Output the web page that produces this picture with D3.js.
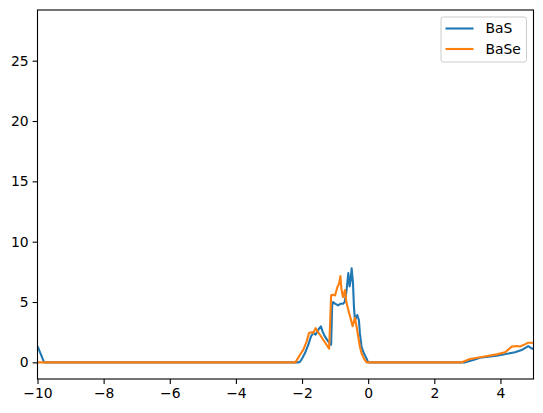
<!DOCTYPE html>
<html>
<head>
<meta charset="utf-8">
<script src="https://cdn.jsdelivr.net/npm/d3@7"></script>
<style>
  body { margin: 0; background: #fff; }
  svg text { font-family: "DejaVu Sans", sans-serif; font-size: 13.9px; fill: #000; }
</style>
</head>
<body>
<div id="chart"></div>
<script>
// values
var basX = [-10, -9.8, -2.1, -2.06, -1.99, -1.91, -1.81, -1.73, -1.66, -1.59, -1.51, -1.43, -1.38, -1.31, -1.21, -1.12,
            -1.09, -1.06, -1.0, -0.91, -0.83, -0.76, -0.71, -0.66, -0.60, -0.56, -0.53, -0.50, -0.46, -0.43, -0.40,
            -0.33, -0.28, -0.25, -0.20, -0.13, -0.05, 0, 2.93, 3.18, 3.38, 3.89, 4.44, 4.64, 4.84, 4.94, 5.0];
var basY = [1.35, 0, 0, 0.05, 0.36, 0.77, 1.46, 2.15, 2.43, 2.29, 2.7, 2.98, 2.57, 2.15, 1.74, 1.46,
            4.7, 5.0, 4.86, 4.72, 4.86, 4.86, 5.0, 5.83, 7.4, 6.3, 6.8, 7.8, 6.65, 4.6, 3.5,
            3.92, 3.5, 2.4, 1.29, 0.75, 0.33, 0, 0, 0.19, 0.38, 0.55, 0.83, 1.02, 1.35, 1.16, 1.1];

var baseX = [-10, -2.2, -2.06, -1.96, -1.86, -1.79, -1.71, -1.66, -1.59, -1.53, -1.46, -1.36, -1.26, -1.18,
             -1.12, -1.06, -1.0, -0.93, -0.88, -0.84, -0.81, -0.76, -0.70, -0.66, -0.60, -0.53, -0.47, -0.40,
             -0.35, -0.30, -0.25, -0.20, -0.13, -0.05, 2.83, 3.08, 3.48, 3.89, 4.14, 4.34, 4.49, 4.59, 4.74, 4.84, 4.94, 5.0];
var baseY = [0, 0, 0.63, 1.05, 1.74, 2.43, 2.5, 2.43, 2.84, 2.57, 2.29, 1.87, 1.46, 1.13,
             5.55, 5.6, 5.55, 6.24, 6.51, 7.15, 6.1, 5.41, 6.0, 5.0, 4.33, 3.64, 3.0, 3.7,
             2.95, 2.12, 1.29, 0.75, 0.33, 0, 0, 0.27, 0.47, 0.66, 0.83, 1.3, 1.35, 1.32, 1.49, 1.63, 1.63, 1.6];

var xTicks = [-10, -8, -6, -4, -2, 0, 2, 4];
var yTicks = [0, 5, 10, 15, 20, 25];
var names = ["BaS", "BaSe"];
var colors = ["#1f77b4", "#ff7f0e"];

var width = 543, height = 413;
var margin = {top: 10, right: 9.5, bottom: 34, left: 37.5};

var svg = d3.select("#chart").append("svg")
    .attr("width", width)
    .attr("height", height);

var x = d3.scaleLinear().domain([-10, 5]).range([margin.left, width - margin.right]);
var y = d3.scaleLinear().domain([-1.38, 29.2]).range([height - margin.bottom, margin.top]);

svg.append("clipPath").attr("id", "clip")
  .append("rect")
    .attr("x", margin.left).attr("y", margin.top)
    .attr("width", x.range()[1] - margin.left)
    .attr("height", y.range()[0] - margin.top);

var series = [
  basX.map(function(v, i) { return [v, basY[i]]; }),
  baseX.map(function(v, i) { return [v, baseY[i]]; })
];

var line = d3.line()
    .x(function(d) { return x(d[0]); })
    .y(function(d) { return y(d[1]); });

series.forEach(function(s, i) {
  svg.append("path")
      .datum(s)
      .attr("clip-path", "url(#clip)")
      .attr("fill", "none")
      .attr("stroke", colors[i])
      .attr("stroke-width", 2.1)
      .attr("stroke-linejoin", "round")
      .attr("d", line);
});

var fmt = function(d) { return d < 0 ? "\u2212" + Math.abs(d) : "" + d; };

var xAxis = svg.append("g")
    .attr("transform", "translate(0," + y.range()[0] + ")")
    .call(d3.axisBottom(x).tickValues(xTicks).tickFormat(fmt).tickSizeInner(4.9).tickSizeOuter(0).tickPadding(4));
var yAxis = svg.append("g")
    .attr("transform", "translate(" + margin.left + ",0)")
    .call(d3.axisLeft(y).tickValues(yTicks).tickFormat(fmt).tickSizeInner(4.9).tickSizeOuter(0).tickPadding(4));

[xAxis, yAxis].forEach(function(g) {
  g.select(".domain").remove();
  g.selectAll(".tick line").attr("stroke", "#000").attr("stroke-width", 1.1);
  g.selectAll(".tick text").style("font-size", "13.9px").attr("font-family", "DejaVu Sans");
});

// frame
svg.append("rect")
    .attr("x", margin.left).attr("y", margin.top)
    .attr("width", x.range()[1] - margin.left)
    .attr("height", y.range()[0] - margin.top)
    .attr("fill", "none")
    .attr("stroke", "#000")
    .attr("stroke-width", 1.1);

// legend
var legend = svg.append("g");
legend.append("rect")
    .attr("x", 441).attr("y", 17)
    .attr("width", 85.5).attr("height", 45)
    .attr("rx", 2.5)
    .attr("fill", "#fff").attr("fill-opacity", 0.8)
    .attr("stroke", "#cccccc").attr("stroke-width", 1);

names.forEach(function(n, i) {
  var ly = 28.5 + i * 20.5;
  legend.append("line")
      .attr("x1", 445.5).attr("x2", 473.5)
      .attr("y1", ly).attr("y2", ly)
      .attr("stroke", colors[i]).attr("stroke-width", 2.1);
  legend.append("text")
      .attr("x", 485.5).attr("y", ly)
      .attr("dy", "0.35em")
      .text(n);
});
</script>
</body>
</html>
